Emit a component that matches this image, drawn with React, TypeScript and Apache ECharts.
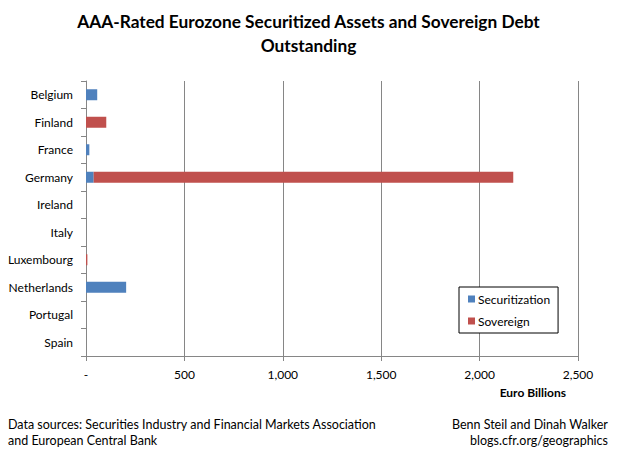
import React, { useEffect, useRef } from "react";
import * as echarts from "echarts";

const countries = ["Belgium", "Finland", "France", "Germany", "Ireland", "Italy", "Luxembourg", "Netherlands", "Portugal", "Spain"];
const securitization = [57, 0, 17, 39, 0, 0, 0, 204, 0, 0];
const sovereign = [0, 103, 0, 2132, 0, 0, 7, 0, 0, 0];
const xTicks = [0, 500, 1000, 1500, 2000, 2500];

const FONT = "Lato, 'Open Sans', sans-serif";

export default function App() {
  const ref = useRef<HTMLDivElement>(null);
  useEffect(() => {
    if (!ref.current) return;
    const chart = echarts.init(ref.current, undefined, { renderer: "svg" });
    chart.setOption({
      animation: false,
      backgroundColor: "#ffffff",
      textStyle: { fontFamily: FONT },
      title: {
        text: "AAA-Rated Eurozone Securitized Assets and Sovereign Debt\nOutstanding",
        left: "center",
        top: 4,
        textStyle: { fontSize: 17.3, fontWeight: "bold", color: "#000", lineHeight: 24, fontFamily: FONT },
      },
      legend: {
        orient: "vertical",
        left: 459,
        top: 287,
        backgroundColor: "#fff",
        borderColor: "#000",
        borderWidth: 1,
        borderRadius: 0,
        padding: [6, 8, 6, 9],
        itemWidth: 7,
        itemHeight: 7,
        itemGap: 10,
        icon: "rect",
        textStyle: { fontSize: 12, color: "#000", fontFamily: FONT, padding: [0, 0, 0, -2] },
        data: ["Securitization", "Sovereign"],
      },
      grid: { left: 86, right: 39, top: 81, bottom: 106, containLabel: false },
      xAxis: {
        type: "value",
        min: xTicks[0],
        max: xTicks[xTicks.length - 1],
        interval: 500,
        axisLine: { show: true, lineStyle: { color: "#868686" } },
        axisTick: { show: true, length: 5, lineStyle: { color: "#868686" } },
        splitLine: { show: true, lineStyle: { color: "#868686", width: 1 } },
        axisLabel: {
          fontSize: 12,
          color: "#000",
          margin: 12,
          fontFamily: FONT,
          formatter: (v: number) => (v === 0 ? "-" : v.toLocaleString("en-US")),
        },
      },
      yAxis: {
        type: "category",
        data: countries,
        inverse: true,
        axisLine: { show: true, lineStyle: { color: "#868686" } },
        axisTick: { show: true, length: 5, lineStyle: { color: "#868686" } },
        axisLabel: { fontSize: 12, color: "#000", margin: 13, fontFamily: FONT },
        splitLine: { show: false },
      },
      graphic: [
        {
          type: "text",
          right: 51,
          top: 386,
          style: { text: "Euro Billions", font: `bold 12px ${FONT}`, fill: "#000" },
        },
        {
          type: "text",
          left: 8,
          top: 416,
          style: {
            text: "Data sources: Securities Industry and Financial Markets Association\nand European Central Bank",
            font: `12.5px ${FONT}`,
            fill: "#000",
            lineHeight: 16,
          },
        },
        {
          type: "text",
          right: 9,
          top: 416,
          style: {
            text: "Benn Steil and Dinah Walker",
            font: `12.5px ${FONT}`,
            fill: "#000",
            lineHeight: 16,
          },
        },
        {
          type: "text",
          right: 9,
          top: 432,
          style: {
            text: "blogs.cfr.org/geographics",
            font: `12.5px ${FONT}`,
            fill: "#000",
            lineHeight: 16,
          },
        },
      ],
      series: [
        {
          name: "Securitization",
          type: "bar",
          stack: "total",
          barWidth: 11,
          itemStyle: { color: "#4F81BD" },
          data: securitization,
        },
        {
          name: "Sovereign",
          type: "bar",
          stack: "total",
          barWidth: 11,
          itemStyle: { color: "#C0504D" },
          data: sovereign,
        },
      ],
    });
    return () => chart.dispose();
  }, []);
  return <div ref={ref} style={{ position: "fixed", left: 0, top: 0, width: 617, height: 462 }} />;
}
